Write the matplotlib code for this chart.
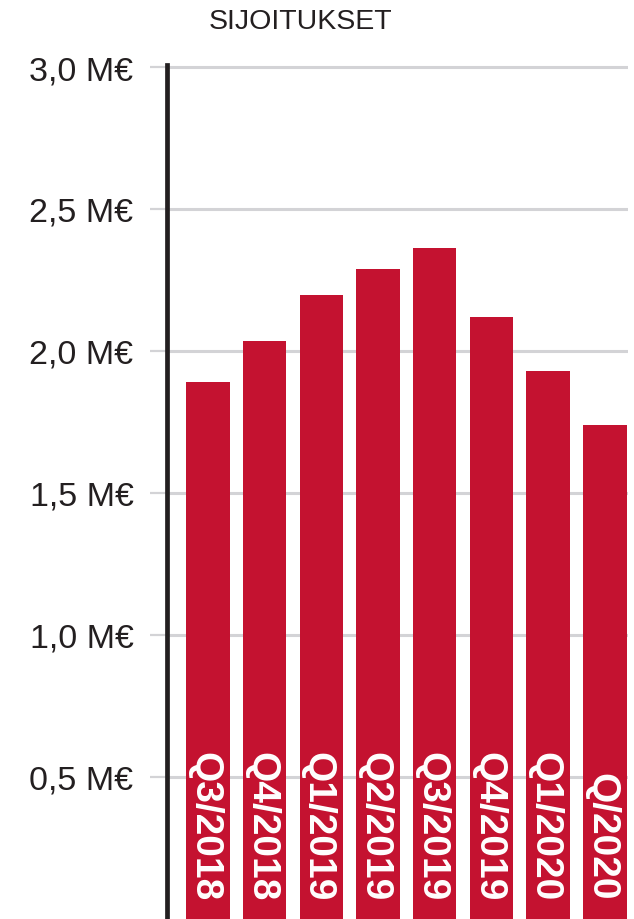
import matplotlib
matplotlib.use('Agg')
import matplotlib.pyplot as plt

quarters = ['Q3/2018', 'Q4/2018', 'Q1/2019', 'Q2/2019',
            'Q3/2019', 'Q4/2019', 'Q1/2020', 'Q/2020']
investments = [1.892, 2.035, 2.197, 2.289, 2.363, 2.121, 1.930, 1.739]
tick_values = [0.5, 1.0, 1.5, 2.0, 2.5, 3.0]
tick_labels = ['0,5 M€', '1,0 M€', '1,5 M€', '2,0 M€', '2,5 M€', '3,0 M€']
title = 'SIJOITUKSET'

red = '#C41230'
dark = '#231F20'
grid_grey = '#D3D3D6'

plt.rcParams['font.family'] = ['Liberation Sans', 'DejaVu Sans']

fig = plt.figure(figsize=(6.34, 9.2), dpi=100)
ax = fig.add_axes([167 / 634, 0, 461 / 634, (920 - 65.7) / 920])

x = range(len(quarters))
ax.bar(x, investments, width=0.768, color=red, zorder=2)

# labels written downwards inside the bars, ending near the bottom
for i, q in enumerate(quarters):
    ax.annotate(q, (i, 0), xytext=(-2.5, 13.7), textcoords='offset points',
                rotation=270, rotation_mode='anchor',
                ha='right', va='center', color='white', fontsize=28,
                fontweight='bold', zorder=3)

ax.set_xlim(-0.723, 7.41)
ax.set_ylim(0, 3.0 + 2.3 / 284)
ax.set_yticks(tick_values)
ax.set_yticklabels(tick_labels, fontsize=24.5, color=dark)
ax.set_xticks([])
ax.yaxis.grid(True, color=grid_grey, linewidth=2.2, zorder=0)
ax.tick_params(axis='y', length=12.2, width=1.6, color=grid_grey, pad=12)

for side in ['top', 'right', 'bottom']:
    ax.spines[side].set_visible(False)
ax.spines['left'].set_color(dark)
ax.spines['left'].set_linewidth(3.4)
ax.set_axisbelow(True)

fig.text(300 / 634, 1 - 22 / 920, title, ha='center', va='center',
         fontsize=20.5, color=dark)

fig.savefig('out.png', dpi=100)
